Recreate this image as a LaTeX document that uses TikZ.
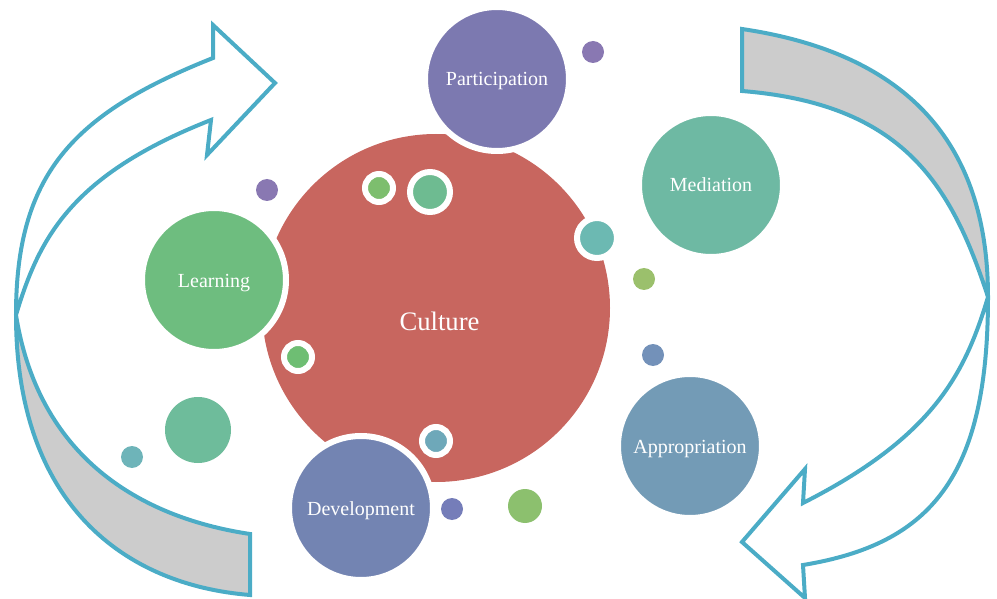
\documentclass[tikz,border=0pt]{standalone}
\usepackage{fontspec}
\setmainfont{Liberation Serif}
\definecolor{arrowc}{HTML}{4BACC6}
\definecolor{bandgray}{HTML}{CCCCCC}
\definecolor{culturec}{HTML}{C8665F}
\definecolor{partc}{HTML}{7C79B0}
\definecolor{medc}{HTML}{6EB9A3}
\definecolor{learnc}{HTML}{6EBD7F}
\definecolor{apprc}{HTML}{739BB6}
\definecolor{devc}{HTML}{7384B2}
\definecolor{purpc}{HTML}{8978B2}
\definecolor{gone}{HTML}{7DBE6E}
\definecolor{gtwo}{HTML}{6EBB91}
\definecolor{gfour}{HTML}{6EBE73}
\definecolor{tealone}{HTML}{6CB9B2}
\definecolor{lgreen}{HTML}{9BC06C}
\definecolor{blone}{HTML}{7391B9}
\definecolor{tealtwo}{HTML}{6EA8B9}
\definecolor{bigg}{HTML}{6EBC9B}
\definecolor{tealthree}{HTML}{6EB4B9}
\definecolor{bltwo}{HTML}{757DB9}
\definecolor{gsix}{HTML}{8CC06E}
\begin{document}
\begin{tikzpicture}[x=0.75pt,y=-0.75pt,
  bigc/.style={circle, inner sep=0pt, minimum size=108pt, draw=white, line width=4.5pt, text=white,
    text height=10.5pt, text depth=0pt, font=\fontsize{15}{17}\selectfont},
  ringsm/.style={circle, inner sep=0pt, minimum size=21pt, draw=white, line width=4.5pt},
  ringmd/.style={circle, inner sep=0pt, minimum size=30pt, draw=white, line width=4.5pt},
  dotc/.style={circle, inner sep=0pt, minimum size=#1},
  arrowline/.style={draw=arrowc, line width=3pt, line join=miter}]

\path[use as bounding box] (0,0) rectangle (997,599);

% crossing points of the two curved arrows
\coordinate (lx) at (16,315);
\coordinate (rx) at (988,297);

% left curved arrow
\fill[bandgray] (lx) .. controls (16,505) and (125,585) .. (250,595)
  -- (250,534) .. controls (150,519) and (40,465) .. (lx) -- cycle;
\draw[arrowline] (213,58) .. controls (72,114) and (16,175) .. (lx)
  .. controls (16,505) and (125,585) .. (250,595)
  -- (250,534) .. controls (150,519) and (40,465) .. (lx)
  .. controls (39,238) and (71,175) .. (211,120)
  -- (207,155) -- (275,83) -- (213,25) -- cycle;

% right curved arrow
\fill[bandgray] (rx) .. controls (988,117) and (877,49) .. (742,29)
  -- (742,91) .. controls (902,104) and (951,183) .. (rx) -- cycle;
\draw[arrowline] (803,565) .. controls (931,544) and (988,477) .. (rx)
  .. controls (988,117) and (877,49) .. (742,29)
  -- (742,91) .. controls (902,104) and (951,183) .. (rx)
  .. controls (965,374) and (933,437) .. (803,503)
  -- (805,469) -- (742,542) -- (805,598) -- cycle;

% central circle
\node[dotc=261pt, fill=culturec] (culture) at (436,308) {};
\node[text=white, font=\fontsize{20}{22}\selectfont] (culturelbl) at (439.5,321) {Culture};

% satellites
\node[bigc, fill=partc] (participation) at (497,79) {Participation};
\node[bigc, fill=medc] (mediation) at (711,185) {Mediation};
\node[bigc, fill=learnc] (learning) at (214,280) {Learning};
\node[bigc, fill=apprc] (appropriation) at (690,446) {Appropriation};
\node[bigc, fill=devc] (development) at (361,508) {Development};

% small circles
\node[dotc=16.5pt, fill=purpc] (pa) at (593,52) {};
\node[dotc=16.5pt, fill=purpc] (pb) at (267,190) {};
\node[ringsm, fill=gone] (ga) at (379,188) {};
\node[ringmd, fill=gtwo] (gb) at (430,192) {};
\node[ringmd, fill=tealone] (ta) at (597,238) {};
\node[dotc=16.5pt, fill=lgreen] (gc) at (644,279) {};
\node[dotc=16.5pt, fill=blone] (ba) at (653,355) {};
\node[ringsm, fill=gfour] (gd) at (298,357) {};
\node[ringsm, fill=tealtwo] (tb) at (436,441) {};
\node[dotc=49.5pt, fill=bigg] (ge) at (198,430) {};
\node[dotc=16.5pt, fill=tealthree] (tc) at (132,457) {};
\node[dotc=16.5pt, fill=bltwo] (bb) at (452,509) {};
\node[dotc=25.5pt, fill=gsix] (gf) at (525,506) {};
\end{tikzpicture}
\end{document}
